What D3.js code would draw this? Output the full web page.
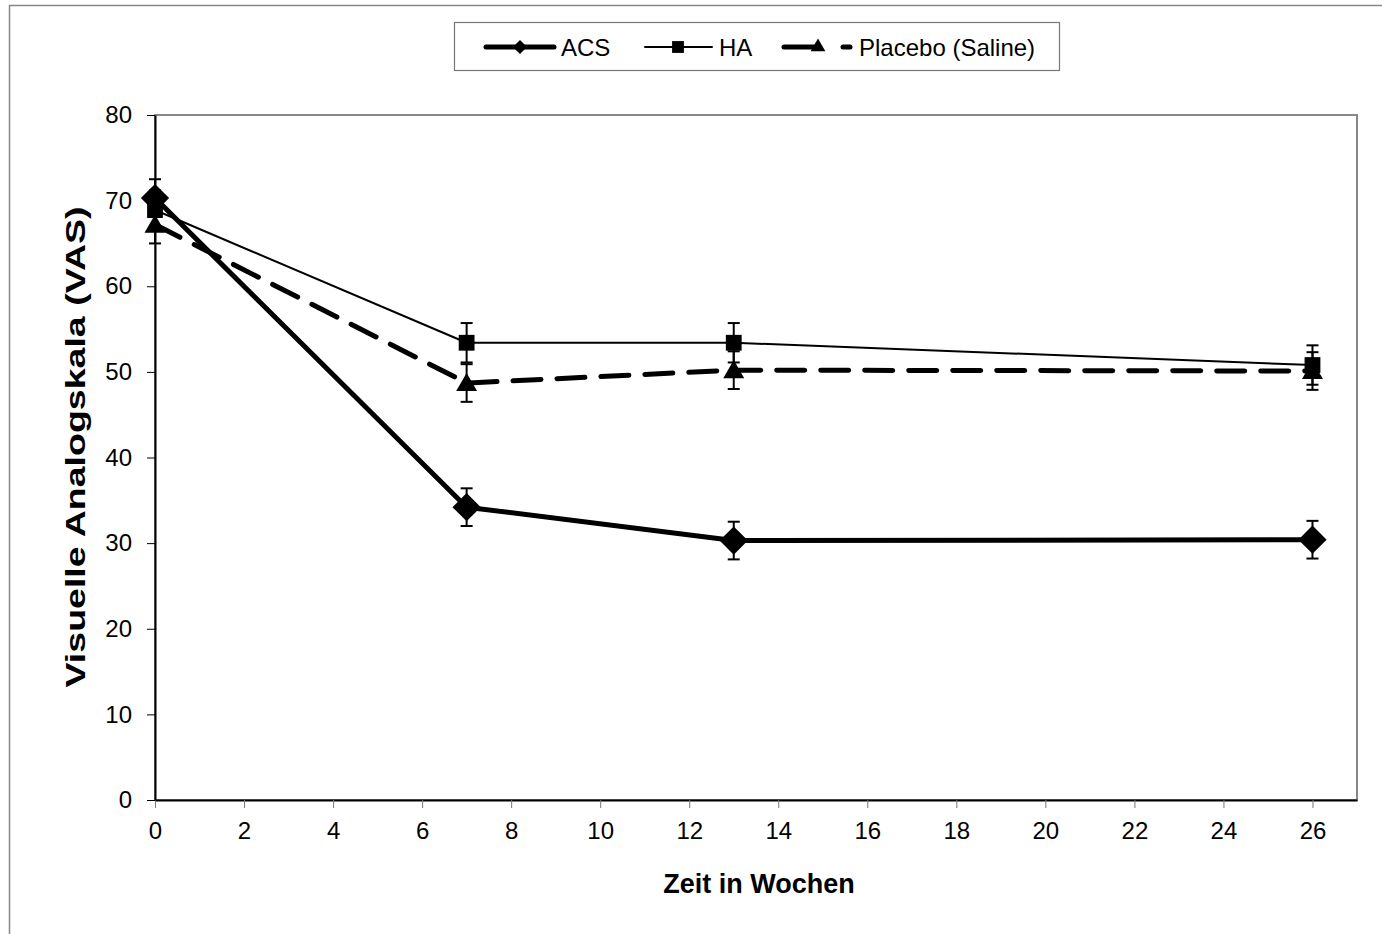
<!DOCTYPE html>
<html>
<head>
<meta charset="utf-8">
<script src="https://cdn.jsdelivr.net/npm/d3@7"></script>
<style>
  body { margin: 0; background: #fff; }
  text { font-family: "Liberation Sans", Arial, sans-serif; }
</style>
</head>
<body>
<div id="chart"></div>
<script>
// weeks
const weeks = [0, 7, 13, 26];
const seriesNames = ["ACS", "HA", "Placebo (Saline)"];
const acsValues = [70.3, 34.2, 30.3, 30.4];
const acsErr = [2.2, 2.2, 2.2, 2.2];
const haValues = [68.9, 53.4, 53.4, 50.8];
const haErr = [2.3, 2.3, 2.3, 2.3];
const placeboValues = [67.2, 48.7, 50.2, 50.1];
const placeboErr = [2.2, 2.2, 2.2, 2.2];
const xTicks = d3.range(0, 27, 2);
const yTicks = d3.range(0, 81, 10);

const W = 1382, H = 934;
const margin = {left: 155, top: 115, right: 25, bottom: 134};

const svg = d3.select("#chart").append("svg")
  .attr("width", W).attr("height", H);

// outer frame
svg.append("rect")
  .attr("x", 9.5).attr("y", 5.5)
  .attr("width", W + 10).attr("height", H + 10)
  .attr("fill", "none").attr("stroke", "#888").attr("stroke-width", 1.5);

const x = d3.scaleLinear().domain([0, 27]).range([margin.left, W - margin.right]);
const y = d3.scaleLinear().domain([0, 80]).range([H - margin.bottom, margin.top]);

// plot area border (gray top/right)
svg.append("rect")
  .attr("x", x(0)).attr("y", y(80))
  .attr("width", x(27) - x(0)).attr("height", y(0) - y(80))
  .attr("fill", "none").attr("stroke", "#888").attr("stroke-width", 2);

const xAxis = svg.append("g")
  .attr("transform", `translate(0,${y(0)})`)
  .call(d3.axisBottom(x).tickValues(xTicks).tickSize(8).tickPadding(14).tickSizeOuter(0));
xAxis.select(".domain").attr("stroke", "#000").attr("stroke-width", 2);
xAxis.selectAll(".tick line").attr("stroke", "#777");
xAxis.selectAll("text").attr("font-size", 24).attr("fill", "#000");

const yAxis = svg.append("g")
  .attr("transform", `translate(${x(0)},0)`)
  .call(d3.axisLeft(y).tickValues(yTicks).tickSize(8).tickPadding(15).tickSizeOuter(0));
yAxis.select(".domain").attr("stroke", "#000").attr("stroke-width", 2);
yAxis.selectAll(".tick line").attr("stroke", "#000");
yAxis.selectAll("text").attr("font-size", 24).attr("fill", "#000");

// axis titles
svg.append("text")
  .attr("x", 759).attr("y", 893)
  .attr("text-anchor", "middle").attr("font-size", 27).attr("font-weight", "bold")
  .text("Zeit in Wochen");
svg.append("text")
  .attr("transform", `translate(85,447) rotate(-90)`)
  .attr("text-anchor", "middle").attr("font-size", 28).attr("font-weight", "bold")
  .attr("textLength", 481).attr("lengthAdjust", "spacingAndGlyphs")
  .text("Visuelle Analogskala (VAS)");

const series = [
  {name: seriesNames[0], values: acsValues, err: acsErr, width: 5, dash: null, symbol: d3.symbolSquare, rot: 45, size: 400, legSize: 100},
  {name: seriesNames[1], values: haValues, err: haErr, width: 2, dash: null, symbol: d3.symbolSquare, rot: 0, size: 250, legSize: 140},
  {name: seriesNames[2], values: placeboValues, err: placeboErr, width: 5, dash: "28,16", symbol: d3.symbolTriangle, rot: 0, size: 190, legSize: 95}
];

const line = d3.line().x((d, i) => x(weeks[i])).y(d => y(d));

// lines
series.forEach(s => {
  svg.append("path")
    .datum(s.values)
    .attr("d", line)
    .attr("fill", "none").attr("stroke", "#000")
    .attr("stroke-width", s.width)
    .attr("stroke-linecap", "round")
    .attr("stroke-linejoin", "round")
    .attr("stroke-dasharray", s.dash);
});

// error bars
series.forEach(s => {
  const g = svg.append("g");
  s.values.forEach((v, i) => {
    const cx = x(weeks[i]);
    g.append("line").attr("x1", cx).attr("x2", cx)
      .attr("y1", y(v + s.err[i])).attr("y2", y(v - s.err[i]))
      .attr("stroke", "#000").attr("stroke-width", 2);
    [v + s.err[i], v - s.err[i]].forEach(e => {
      g.append("line").attr("x1", cx - 6).attr("x2", cx + 6)
        .attr("y1", y(e)).attr("y2", y(e))
        .attr("stroke", "#000").attr("stroke-width", 2);
    });
  });
});

// markers
series.forEach(s => {
  svg.append("g").selectAll("path")
    .data(s.values)
    .join("path")
    .attr("transform", (d, i) => {
      const dy = s.symbol === d3.symbolTriangle ? 2 : 0;
      return `translate(${x(weeks[i])},${y(d) + dy}) rotate(${s.rot})`;
    })
    .attr("d", d3.symbol().type(s.symbol).size(s.size))
    .attr("fill", "#000");
});

// legend
const leg = svg.append("g");
leg.append("rect")
  .attr("x", 454.5).attr("y", 22.5).attr("width", 605).attr("height", 48)
  .attr("fill", "#fff").attr("stroke", "#777").attr("stroke-width", 1.2);
const legItems = [
  {x0: 486, x1: 554, m: 520, tx: 561},
  {x0: 645, x1: 712, m: 678, tx: 719},
  {x0: 784, x1: 853, m: 818, tx: 859}
];
series.forEach((s, i) => {
  const it = legItems[i];
  const ly = 47;
  if (s.dash) {
    leg.append("line").attr("x1", it.x0).attr("x2", it.m).attr("y1", ly).attr("y2", ly)
      .attr("stroke", "#000").attr("stroke-width", s.width).attr("stroke-linecap", "round");
    leg.append("line").attr("x1", it.x1 - 10).attr("x2", it.x1 - 3).attr("y1", ly).attr("y2", ly)
      .attr("stroke", "#000").attr("stroke-width", s.width).attr("stroke-linecap", "round");
  } else {
    leg.append("line").attr("x1", it.x0).attr("x2", it.x1).attr("y1", ly).attr("y2", ly)
      .attr("stroke", "#000").attr("stroke-width", s.width).attr("stroke-linecap", "round");
  }
  leg.append("path")
    .attr("transform", `translate(${it.m},${ly}) rotate(${s.rot})`)
    .attr("d", d3.symbol().type(s.symbol).size(s.legSize))
    .attr("fill", "#000");
  leg.append("text")
    .attr("x", it.tx).attr("y", ly + 9)
    .attr("font-size", 24)
    .text(s.name);
});
</script>
</body>
</html>
